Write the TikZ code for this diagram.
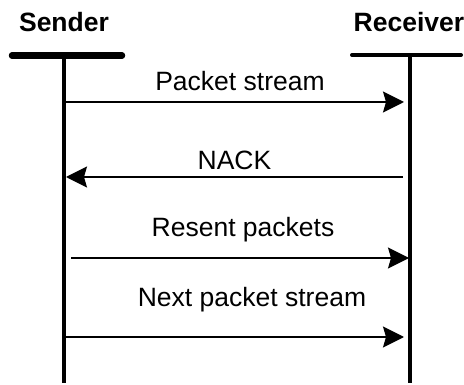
\documentclass[tikz,border=0pt]{standalone}
\usepackage{fontspec}
\setmainfont{Liberation Sans}
\usetikzlibrary{arrows.meta}
\begin{document}
\begin{tikzpicture}[x=1pt,y=-1pt,
  actor/.style={font=\fontsize{26.5}{30}\selectfont\bfseries, anchor=base, inner sep=0pt},
  msglabel/.style={font=\fontsize{26.5}{30}\selectfont, anchor=base, inner sep=0pt},
  lifeline/.style={line width=4pt},
  msg/.style={line width=1.6pt, -{Stealth[length=21pt,width=21pt,inset=3pt]}}]
\useasboundingbox (0,0) rectangle (464,385);

% participants
\node[actor] (sender) at (64,31.5) {Sender};
\node[actor] (receiver) at (409,31.5) {Receiver};

% heads of the lifelines
\coordinate (sl) at (12,55.5);
\coordinate (sr) at (122,55.5);
\coordinate (rl) at (352,55);
\coordinate (rr) at (461,55);
\draw[line width=6.5pt, line cap=round] (sl) -- (sr);
\draw[line width=4pt, line cap=round] (rl) -- (rr);

% lifelines
\coordinate (stop) at (64,55);
\coordinate (sbot) at (64,383);
\coordinate (rtop) at (410,55);
\coordinate (rbot) at (410,383);
\draw[lifeline] (stop) -- (sbot);
\draw[lifeline] (rtop) -- (rbot);

% message end points
\coordinate (m1a) at (64,102);  \coordinate (m1b) at (404,102);
\coordinate (m2a) at (403,177); \coordinate (m2b) at (66,177);
\coordinate (m3a) at (71,258);  \coordinate (m3b) at (409,258);
\coordinate (m4a) at (65,337);  \coordinate (m4b) at (404,337);

\draw[msg] (m1a) -- (m1b);
\draw[msg] (m2a) -- (m2b);
\draw[msg] (m3a) -- (m3b);
\draw[msg] (m4a) -- (m4b);

% message labels
\node[msglabel] (l1) at (240,91) {Packet stream};
\node[msglabel] (l2) at (234.5,170) {NACK};
\node[msglabel] (l3) at (243,237) {Resent packets};
\node[msglabel] (l4) at (252,307) {Next packet stream};
\end{tikzpicture}
\end{document}
